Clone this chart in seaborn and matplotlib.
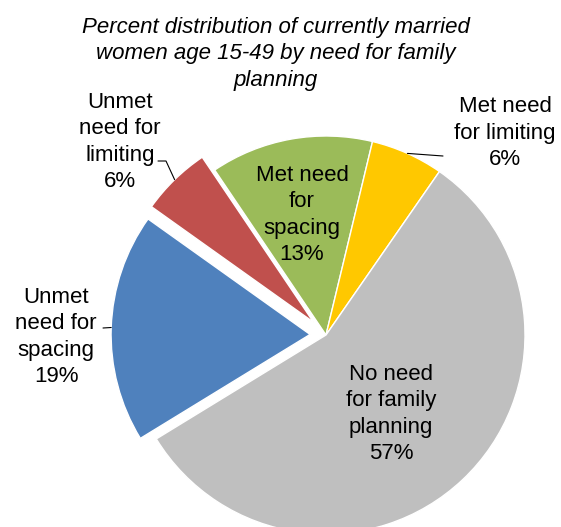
import matplotlib
matplotlib.use("Agg")
import matplotlib.pyplot as plt
import seaborn as sns
import numpy as np

# Need for family planning among currently married women age 15-49 (%)
categories = [
    "Met need\nfor\nspacing",
    "Met need\nfor limiting",
    "No need\nfor family\nplanning",
    "Unmet\nneed for\nspacing",
    "Unmet\nneed for\nlimiting",
]
values = [13.2, 5.9, 56.6, 18.6, 5.7]
colors = ["#9BBB59", "#FFC800", "#BFBFBF", "#4F81BD", "#C0504D"]
explode = [0, 0, 0, 0.08, 0.09]

sns.set_theme(style="white")
plt.rcParams["font.family"] = ["Liberation Sans", "DejaVu Sans"]
plt.rcParams["text.color"] = "black"

W, H = 561, 527
fig = plt.figure(figsize=(W / 100, H / 100), dpi=100)
fig.patch.set_facecolor("white")

# pie centre and radius in pixels
CX, CY, R = 326, 335, 199
ax = fig.add_axes([0, 0, 1, 1])
palette = sns.color_palette(colors)
wedges, _ = ax.pie(
    values,
    colors=palette,
    explode=explode,
    startangle=124,
    counterclock=False,
    wedgeprops=dict(edgecolor="white", linewidth=1.0),
)
ax.set_xlim(-CX / R, (W - CX) / R)
ax.set_ylim(-(H - CY) / R, CY / R)
ax.set_aspect("auto")
ax.axis("off")


def px(x, y):
    """pixel position (from top-left) -> data coordinates"""
    return (x - CX) / R, (CY - y) / R


def arc_point(i):
    w = wedges[i]
    mid = np.deg2rad((w.theta1 + w.theta2) / 2)
    cx, cy = w.center
    return cx + w.r * np.cos(mid), cy + w.r * np.sin(mid)


pct = [f"{v:.0f}%" for v in values]
label_pos = [(302, 215), (505, 133), (391, 414), (56, 337), (120, 142)]
fs = 16
ls = 1.32
for cat, p, (lx, ly) in zip(categories, pct, label_pos):
    x, y = px(lx, ly)
    ax.text(x, y, f"{cat}\n{p}", ha="center", va="center", fontsize=fs,
            linespacing=ls, color="black")

# leader lines
lw = 0.8
# Met need for limiting
a = arc_point(1)
b = px(443, 156)
ax.plot([a[0], b[0]], [a[1], b[1]], color="black", lw=lw)
# Unmet need for limiting
a = arc_point(4)
e = px(166, 161)
s = px(158, 161)
ax.plot([a[0], e[0], s[0]], [a[1], e[1], s[1]], color="black", lw=lw)
# Unmet need for spacing
a = arc_point(3)
s = px(103, 328)
ax.plot([a[0], s[0]], [a[1], s[1]], color="black", lw=lw)

fig.text(276 / W, 1 - 54 / H,
         "Percent distribution of currently married\n"
         "women age 15-49 by need for family\nplanning",
         ha="center", va="center", fontsize=fs, style="italic",
         linespacing=ls, color="black")

fig.savefig("out.png", dpi=100)
